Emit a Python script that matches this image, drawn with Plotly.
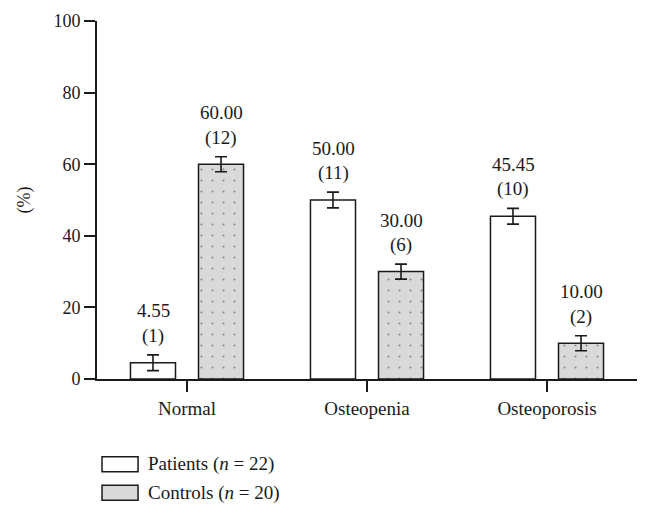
import plotly.graph_objects as go

categories = ["Normal", "Osteopenia", "Osteoporosis"]
patients = [4.55, 50.00, 45.45]
patients_n = [1, 11, 10]
controls = [60.00, 30.00, 10.00]
controls_n = [12, 6, 2]
patients_err = [2.2, 2.2, 2.2]
controls_err = [2.1, 2.1, 2.1]
y_ticks = [0, 20, 40, 60, 80, 100]
legend_labels = ["Patients (<i>n</i> = 22)", "Controls (<i>n</i> = 20)"]

FONT = "Times New Roman, Liberation Serif, DejaVu Serif, serif"
INK = "#1a1a1a"
GRAY = "#d9d9d9"

fig = go.Figure()
fig.add_trace(go.Bar(
    x=categories, y=patients, name=legend_labels[0],
    marker=dict(color="white", line=dict(color=INK, width=1.5)),
    error_y=dict(type="data", array=patients_err, color=INK, thickness=1.6, width=6),
))
fig.add_trace(go.Bar(
    x=categories, y=controls, name=legend_labels[1],
    marker=dict(color=GRAY, line=dict(color=INK, width=1.5),
                pattern=dict(shape=".", size=11, solidity=0.03, fgcolor="#333", bgcolor=GRAY)),
    error_y=dict(type="data", array=controls_err, color=INK, thickness=1.6, width=6),
))

annotations = []
for vals, ns, errs, dx in [(patients, patients_n, patients_err, -34),
                           (controls, controls_n, controls_err, 34)]:
    for i in range(len(categories)):
        top = vals[i] + errs[i]
        annotations.append(dict(
            x=i, xref="x", xshift=dx, y=top, yref="y", text=f"{vals[i]:.2f}",
            showarrow=False, yanchor="middle", yshift=44,
            font=dict(family=FONT, size=19, color=INK)))
        annotations.append(dict(
            x=i, xref="x", xshift=dx, y=top, yref="y", text=f"({ns[i]})",
            showarrow=False, yanchor="middle", yshift=19,
            font=dict(family=FONT, size=19, color=INK)))

# manual legend (wide rectangles like the original)
shapes = []
leg_fills = ["white", GRAY]
leg_y = [-0.238, -0.318]
for k in range(2):
    shapes.append(dict(type="rect", xref="paper", yref="paper",
                       x0=0.0093, x1=0.076, y0=leg_y[k] - 0.021, y1=leg_y[k] + 0.021,
                       fillcolor=leg_fills[k], line=dict(color=INK, width=1.5)))
    annotations.append(dict(x=0.091, xref="paper", y=leg_y[k], yref="paper",
                            text=legend_labels[k], showarrow=False,
                            xanchor="left", yanchor="middle",
                            font=dict(family=FONT, size=19, color=INK)))

fig.update_layout(
    width=650, height=517,
    margin=dict(l=97, r=13, t=21, b=138),
    paper_bgcolor="white", plot_bgcolor="white",
    barmode="group", bargap=0.244, bargroupgap=0.338,
    font=dict(family=FONT, size=19, color=INK),
    annotations=annotations, shapes=shapes,
    showlegend=False,
    xaxis=dict(showline=True, linecolor=INK, linewidth=1.6, automargin=False,
               ticks="outside", ticklen=11, tickwidth=1.6, tickcolor=INK,
               showgrid=False, zeroline=False, range=[-0.5, 2.5],
               tickfont=dict(family=FONT, size=19, color=INK)),
    yaxis=dict(showline=True, linecolor=INK, linewidth=1.6, automargin=False,
               ticks="outside", ticklen=11, tickwidth=1.6, tickcolor=INK,
               showgrid=False, zeroline=False, range=[0, 100],
               tickvals=y_ticks, tickfont=dict(family=FONT, size=18, color=INK),
               title=dict(text="(%)", standoff=18, font=dict(family=FONT, size=18, color=INK))),
)

fig.write_html("out.html", config={"displayModeBar": False},
               post_script="document.body.style.margin='0';document.body.style.padding='0';")
